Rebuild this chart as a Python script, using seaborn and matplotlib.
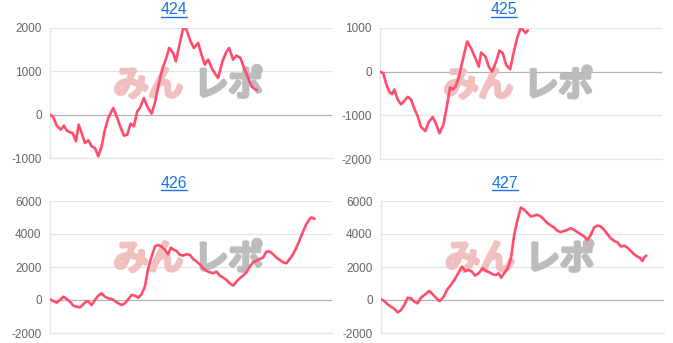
import numpy as np
import pandas as pd
import matplotlib
matplotlib.use("Agg")
import matplotlib.pyplot as plt
from matplotlib.lines import Line2D
import matplotlib.patheffects as pe
import seaborn as sns

# ---------------- data ----------------
titles = ["424", "425", "426", "427"]

games_424 = [0, 94, 189, 302, 397, 472, 567, 642, 737, 812, 897, 992, 1086, 1181, 1275, 1370,
             1464, 1558, 1653, 1795, 1889, 1983, 2097, 2191, 2286, 2380, 2475, 2550, 2663, 2758,
             2881, 2975, 3070, 3192, 3287, 3381, 3495, 3570, 3684, 3778, 3872, 3986, 4080, 4203,
             4298, 4392, 4486, 4609, 4704, 4770, 4893, 4987, 5081, 5195, 5289, 5403, 5525, 5620,
             5714, 5809, 5875]
diff_424 = [0, -54, -254, -346, -254, -362, -408, -423, -615, -231, -423, -654, -592, -731, -769,
            -962, -731, -346, -77, 154, -38, -254, -485, -462, -208, -269, 77, 154, 385, 192, 23,
            269, 654, 1077, 1269, 1538, 1423, 1231, 1654, 2000, 1962, 1692, 1538, 1654, 1385, 1154,
            1269, 1038, 923, 846, 1231, 1423, 1538, 1269, 1362, 1308, 1038, 846, 654, 592, 562]

games_425 = [0, 95, 170, 265, 341, 407, 502, 596, 691, 786, 880, 975, 1070, 1164, 1287, 1382,
             1496, 1590, 1685, 1799, 1893, 1988, 2064, 2140, 2234, 2348, 2471, 2584, 2708, 2802,
             2869, 2992, 3086, 3181, 3294, 3389, 3484, 3579, 3692, 3787, 3891, 3986, 4052, 4128, 4194]
diff_425 = [0, -38, -269, -462, -515, -408, -638, -746, -669, -577, -638, -846, -1023, -1269,
            -1362, -1154, -1038, -1192, -1408, -1208, -808, -362, -408, -346, -131, 269, 692, 538,
            308, 115, 438, 346, 115, 0, 231, 485, 423, 154, 54, 423, 769, 1000, 962, 885, 946]

games_426 = [0, 94, 189, 283, 378, 472, 567, 661, 756, 850, 944, 1039, 1086, 1181, 1275, 1370,
             1464, 1558, 1653, 1747, 1842, 1936, 2031, 2125, 2220, 2314, 2408, 2503, 2597, 2692,
             2786, 2881, 2975, 3070, 3164, 3259, 3353, 3428, 3514, 3589, 3684, 3778, 3872, 3967,
             4061, 4156, 4250, 4344, 4439, 4534, 4628, 4722, 4817, 4911, 5006, 5100, 5195, 5289,
             5384, 5478, 5573, 5667, 5761, 5856, 5950, 6045, 6139, 6234, 6328, 6423, 6517, 6612,
             6706, 6800, 6895, 6989, 7084, 7178, 7273, 7367, 7414, 7509]
diff_426 = [40, -61, -162, 0, 202, 61, -101, -344, -405, -445, -263, -61, -101, -304, 0, 263, 405,
            202, 101, 61, -61, -202, -304, -202, 40, 304, 263, 142, 344, 810, 1923, 2632, 3239,
            3340, 3239, 3036, 2773, 3178, 3036, 2976, 2733, 2692, 2773, 2733, 2490, 2328, 2166,
            1923, 1761, 1680, 1619, 1721, 1478, 1356, 1215, 1012, 870, 1113, 1316, 1478, 1680,
            2024, 2287, 2368, 2490, 2571, 2935, 2935, 2773, 2571, 2429, 2287, 2227, 2490, 2773,
            3178, 3644, 4150, 4595, 4919, 5000, 4919]

games_427 = [0, 94, 188, 282, 376, 471, 565, 659, 753, 847, 941, 1035, 1129, 1224, 1365, 1459,
             1553, 1647, 1722, 1788, 1882, 1976, 2071, 2165, 2287, 2381, 2475, 2569, 2664, 2758,
             2871, 2965, 3059, 3153, 3247, 3322, 3398, 3482, 3577, 3671, 3765, 3859, 3953, 4047,
             4141, 4235, 4330, 4424, 4518, 4612, 4706, 4800, 4894, 4988, 5082, 5177, 5271, 5365,
             5459, 5553, 5647, 5741, 5835, 5930, 6024, 6118, 6212, 6306, 6400, 6494, 6588, 6682,
             6777, 6871, 6965, 7059, 7153, 7247, 7313, 7388, 7435, 7501]
diff_427 = [40, -61, -263, -405, -547, -749, -607, -304, 142, 101, -101, -202, 142, 304, 547, 344,
            142, -61, 61, 263, 668, 911, 1215, 1559, 2024, 1761, 1822, 1721, 1478, 1619, 1923,
            1761, 1680, 1559, 1518, 1619, 1356, 1619, 1923, 2490, 3947, 4858, 5607, 5466, 5263,
            5061, 5121, 5162, 5061, 4858, 4656, 4514, 4393, 4190, 4109, 4190, 4251, 4352, 4251,
            4109, 3988, 3846, 3644, 3947, 4393, 4514, 4453, 4251, 3988, 3745, 3583, 3502, 3239,
            3300, 3178, 2976, 2773, 2632, 2571, 2368, 2571, 2692]

y_ticks = [[-1000, 0, 1000, 2000],
           [-2000, -1000, 0, 1000],
           [-2000, 0, 2000, 4000, 6000],
           [-2000, 0, 2000, 4000, 6000]]

series = [(games_424, diff_424), (games_425, diff_425),
          (games_426, diff_426), (games_427, diff_427)]

# ---------------- style ----------------
sns.set_style("white")
plt.rcParams['font.family'] = ['Liberation Sans', 'DejaVu Sans']

LINE = "#ff4d6b"
GRID = "#e4e4e4"
ZERO = "#b3b3b3"
TICK = "#666666"
LINK = "#1a73e8"
WM_PINK = "#f0bfc0"
WM_GRAY = "#bcbcbc"

W, H = 673, 343
fig = plt.figure(figsize=(W / 100, H / 100), dpi=100)
fig.patch.set_facecolor("white")

# axes boxes in pixels: (left, top, right, bottom)
boxes = [(50, 28, 332, 158), (380, 28, 662, 159),
         (50, 201, 332, 333), (381, 201, 664, 333)]
title_pos = [(174, 10), (504, 10), (174, 183), (505, 183)]
XMAX = 8000

axes = []
for i, (box, (gx, gy), ticks) in enumerate(zip(boxes, series, y_ticks)):
    l, t, r, b = box
    ax = fig.add_axes([l / W, 1 - b / H, (r - l) / W, (b - t) / H])
    axes.append(ax)
    df = pd.DataFrame({"games": gx, "diff": gy})

    # watermark (behind the line)
    ax.text(0.472, 0.555, "みん", transform=ax.transAxes, ha="right", va="center",
            fontsize=25, color=WM_PINK, family=["Noto Sans CJK JP", "DejaVu Sans"],
            zorder=1, path_effects=[pe.withStroke(linewidth=3, foreground=WM_PINK)])
    ax.text(0.51, 0.555, "レポ", transform=ax.transAxes, ha="left", va="center",
            fontsize=25, color=WM_GRAY, family=["Noto Sans CJK JP", "DejaVu Sans"],
            zorder=1, path_effects=[pe.withStroke(linewidth=3, foreground=WM_GRAY)])

    sns.lineplot(data=df, x="games", y="diff", ax=ax, color=LINE, linewidth=1.9,
                 zorder=3, sort=False)
    ax.set_xlim(0, XMAX)
    ax.set_ylim(ticks[0], ticks[-1])
    ax.set_yticks(ticks)
    ax.set_yticklabels([str(v) for v in ticks])
    ax.set_xticks([])
    ax.set_xlabel("")
    ax.set_ylabel("")
    for v in ticks:
        ax.axhline(v, color=ZERO if v == 0 else GRID, linewidth=0.9, zorder=0.5)
    for s in ["top", "right"]:
        ax.spines[s].set_visible(False)
    ax.spines["left"].set_color(GRID)
    ax.spines["left"].set_linewidth(0.9)
    ax.spines["bottom"].set_color(GRID)
    ax.spines["bottom"].set_linewidth(0.9)
    ax.tick_params(axis="y", length=5, width=0.9, color=GRID, labelcolor=TICK,
                   labelsize=8.5, pad=1)
    ax.set_facecolor("white")

    tx, ty = title_pos[i]
    fig.text(tx / W, 1 - ty / H, titles[i], ha="center", va="center",
             fontsize=11.5, color=LINK)

# underline the titles
fig.canvas.draw()
renderer = fig.canvas.get_renderer()
for txt in list(fig.texts):
    bb = txt.get_window_extent(renderer)
    y = bb.y0 + 0.5
    fig.add_artist(Line2D([bb.x0 / W, bb.x1 / W], [y / H, y / H],
                          transform=fig.transFigure, color=LINK, linewidth=1.0))

fig.savefig("out.png", dpi=100, facecolor="white")
